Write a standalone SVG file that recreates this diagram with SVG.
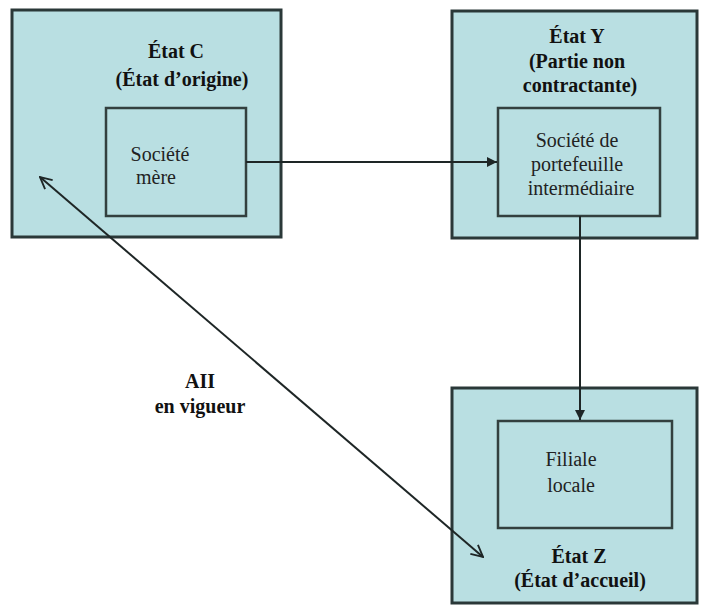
<svg xmlns="http://www.w3.org/2000/svg" width="707" height="614" viewBox="0 0 707 614">
<style>
.outer{fill:#b9dfe2;stroke:#2a3838;stroke-width:3}
.inner{fill:#b9dfe2;stroke:#33403f;stroke-width:2.5}
text{font-family:'Liberation Serif','Times New Roman',Times,'DejaVu Serif',serif;font-size:20px;text-anchor:middle}
.b{font-weight:bold;fill:#111}
.r{fill:#222}
.c{stroke:#1e2626;stroke-width:2;fill:none}
</style>
<defs>
<marker id="fa" viewBox="0 0 10 10" refX="10" refY="5" markerWidth="10" markerHeight="10" markerUnits="userSpaceOnUse" orient="auto"><path d="M0,0 L10,5 L0,10 z" fill="#1e2626"/></marker>
<marker id="oa" viewBox="0 0 12 12" refX="11" refY="6" markerWidth="14" markerHeight="14" markerUnits="userSpaceOnUse" orient="auto-start-reverse"><path d="M1,1 L11,6 L1,11" fill="none" stroke="#1e2626" stroke-width="1.6"/></marker>
</defs>
<g id="etatC">
<rect class="outer" x="12" y="10" width="269" height="227"/>
<text class="b" x="176" y="58">État C</text>
<text class="b" x="182" y="86">(État d’origine)</text>
</g>
<g id="societeMere">
<rect class="inner" x="106" y="108" width="140" height="108"/>
<text class="r" x="160" y="161">Société</text>
<text class="r" x="156" y="184">mère</text>
</g>
<g id="etatY">
<rect class="outer" x="452" y="11" width="245" height="227"/>
<text class="b" x="577" y="43">État Y</text>
<text class="b" x="577" y="68">(Partie non</text>
<text class="b" x="580" y="92">contractante)</text>
</g>
<g id="societePortefeuille">
<rect class="inner" x="498" y="108" width="162" height="108"/>
<text class="r" x="577" y="147">Société de</text>
<text class="r" x="577" y="171">portefeuille</text>
<text class="r" x="581" y="195">intermédiaire</text>
</g>
<g id="etatZ">
<rect class="outer" x="452" y="388" width="245" height="215"/>
<text class="b" x="579" y="563">État Z</text>
<text class="b" x="580" y="587">(État d’accueil)</text>
</g>
<g id="filiale">
<rect class="inner" x="498" y="421" width="174" height="107"/>
<text class="r" x="571" y="466">Filiale</text>
<text class="r" x="571" y="492">locale</text>
</g>
<g id="aii">
<text class="b" x="200" y="388">AII</text>
<text class="b" x="200" y="413">en vigueur</text>
</g>
<g id="connectors">
<line class="c" x1="246" y1="162" x2="497" y2="162" marker-end="url(#fa)"/>
<line class="c" x1="580" y1="216" x2="580" y2="420" marker-end="url(#fa)"/>
<line class="c" x1="40" y1="177" x2="483" y2="557" marker-start="url(#oa)" marker-end="url(#oa)"/>
</g>
</svg>
